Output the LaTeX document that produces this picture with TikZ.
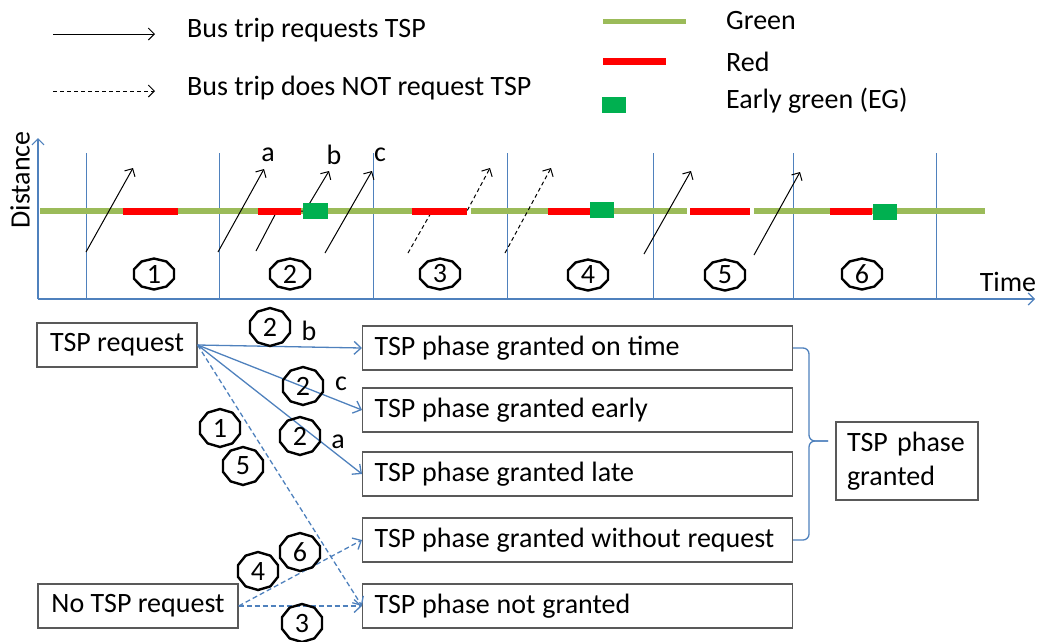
\documentclass[tikz,border=0pt]{standalone}
\usepackage{fontspec}
\setmainfont{Carlito}
\usetikzlibrary{arrows.meta}
\definecolor{axisblue}{HTML}{4F81BD}
\definecolor{sigreen}{HTML}{9BBB59}
\definecolor{egreen}{HTML}{00B050}
\definecolor{boxgray}{HTML}{595959}
\begin{document}
\begin{tikzpicture}[x=1pt, y=-1pt,
    every node/.style={font=\fontsize{28}{34}\selectfont},
    trip/.style={black, line width=1pt, -{Straight Barb[length=6pt,width=12pt]}},
    notrip/.style={trip, dash pattern=on 4pt off 3pt},
    axis/.style={axisblue, line width=1.2pt, -{Straight Barb[length=6pt,width=12pt]}},
    link/.style={axisblue, line width=1.3pt, -{Straight Barb[length=7pt,width=13pt]}},
    nolink/.style={link, dash pattern=on 5pt off 3pt},
    legtext/.style={anchor=west, inner sep=0pt},
    outcome/.style={draw=boxgray, line width=1.2pt, anchor=west, minimum height=44pt,
        text width=406pt, inner xsep=12pt, align=left,
        execute at begin node={\spaceskip=6.8pt\hyphenpenalty=10000}},
    startbox/.style={draw=boxgray, line width=1.2pt, minimum height=44pt},
    tagline/.style={black, line width=2.4pt}]
  \useasboundingbox (0,0) rectangle (1038,641);

  % legend
  \draw[trip] (53,34) -- (155,34);
  \draw[notrip] (53,91) -- (155,91);
  \node[legtext] (legreq) at (187,30) {Bus trip requests TSP};
  \node[legtext] (legnoreq) at (187,88) {Bus trip does NOT request TSP};
  \draw[sigreen, line width=5pt] (603,21) -- (686,21);
  \draw[red, line width=7pt] (603,61) -- (666,61);
  \fill[egreen] (602,97) rectangle (626,113);
  \node[legtext] (leggreen) at (726,21) {Green};
  \node[legtext] (legred) at (726,62) {Red};
  \node[legtext] (legeg) at (726,101) {Early green (EG)};

  % time-distance chart
  \coordinate (o) at (38,299);
  \draw[axis] (o) -- (38,138);
  \draw[axis] (o) -- (1035,299);
  \foreach \x in {86,219,373,507,653,793,936}
    \draw[axisblue, line width=1pt] (\x,153) -- (\x,299);
  \node[rotate=90] (dist) at (20,180) {Distance};
  \node (time) at (1008,282) {Time};

  \draw[sigreen, line width=6pt] (40,211) -- (467,211);
  \draw[sigreen, line width=6pt] (471,211) -- (687,211);
  \draw[sigreen, line width=6pt] (754,211) -- (985,211);

  \draw[trip] (86,252) -- (133,168);
  \draw[trip] (218,252) -- (264,169);
  \draw[trip] (256,251) -- (277,211) -- (305,211) -- (329,171);
  \draw[trip] (325,253) -- (372,171);
  \draw[notrip] (408,253) -- (432,211) -- (467,211) -- (490,168);
  \draw[notrip] (505,253) -- (551,168);
  \draw[trip] (644,254) -- (691,171);
  \draw[trip] (754,255) -- (800,172);

  \draw[red, line width=7pt] (123,211) -- (178,211);
  \draw[red, line width=7pt] (258,211) -- (301,211);
  \draw[red, line width=7pt] (412,211) -- (467,211);
  \draw[red, line width=7pt] (548,211) -- (590,211);
  \draw[red, line width=7pt] (690,211) -- (750,211);
  \draw[red, line width=7pt] (830,211) -- (872,211);
  \fill[egreen] (303,203) rectangle (328,219);
  \fill[egreen] (590,202) rectangle (614,218);
  \fill[egreen] (873,204) rectangle (897,220);

  \node (la) at (268,155) {a};
  \node (lb) at (334,155) {b};
  \node (lc) at (380,155) {c};

  \node (c1) at (154,274) {1};
  \node (c2) at (290,274) {2};
  \node (c3) at (440,274) {3};
  \node (c4) at (588,275) {4};
  \node (c5) at (725,275) {5};
  \node (c6) at (862,274) {6};
  \foreach \n in {c1,c2,c3,c4,c5,c6}
    \draw[tagline, shift={(\n)}] plot[samples=11, domain=18:378] (\x:21 and 15.5) -- cycle;

  % outcomes
  \node[startbox, minimum width=160pt] (req) at (117,345) {TSP request};
  \node[startbox, minimum width=200pt] (noreq) at (138,606) {No TSP request};
  \node[outcome] (ontime) at (362,348) {TSP phase granted on time};
  \node[outcome] (early) at (362,410) {TSP phase granted early};
  \node[outcome] (late) at (362,474) {TSP phase granted late};
  \node[outcome] (without) at (362,540) {TSP phase granted without request};
  \node[outcome] (notgr) at (362,606) {TSP phase not granted};
  \node[draw=boxgray, line width=1.2pt, minimum height=78pt, text width=120pt,
        inner xsep=11pt, align=left] (granted) at (907,461) {TSP phase\\granted};

  \draw[link] (req.east) -- (ontime.west);
  \draw[link] (req.east) -- (early.west);
  \draw[link] (req.east) -- (late.west);
  \draw[nolink] (req.east) -- (notgr.west);
  \draw[nolink] (noreq.east) -- (without.west);
  \draw[nolink] (noreq.east) -- (notgr.west);

  \coordinate (brtip) at (828,441);
  \draw[axisblue, line width=1.3pt, rounded corners=6pt] (ontime.east) -| (809,441) -- (brtip);
  \draw[axisblue, line width=1.3pt, rounded corners=6pt] (without.east) -| (809,441) -- (brtip);

  \node (t2b) at (270,327) {2};
  \node (t2c) at (303,386) {2};
  \node (t1) at (220,428) {1};
  \node (t2a) at (300,436) {2};
  \node (t5) at (243,466) {5};
  \node (t6) at (300,552) {6};
  \node (t4) at (258,571) {4};
  \node (t3) at (302,623) {3};
  \foreach \n in {t2b,t2c,t1,t2a,t5,t6,t4,t3}
    \draw[tagline, shift={(\n)}] plot[samples=11, domain=18:378] (\x:21 and 19) -- cycle;
  \node (pb) at (309,331) {b};
  \node (pc) at (341,384) {c};
  \node (pa) at (338,442) {a};
\end{tikzpicture}
\end{document}
